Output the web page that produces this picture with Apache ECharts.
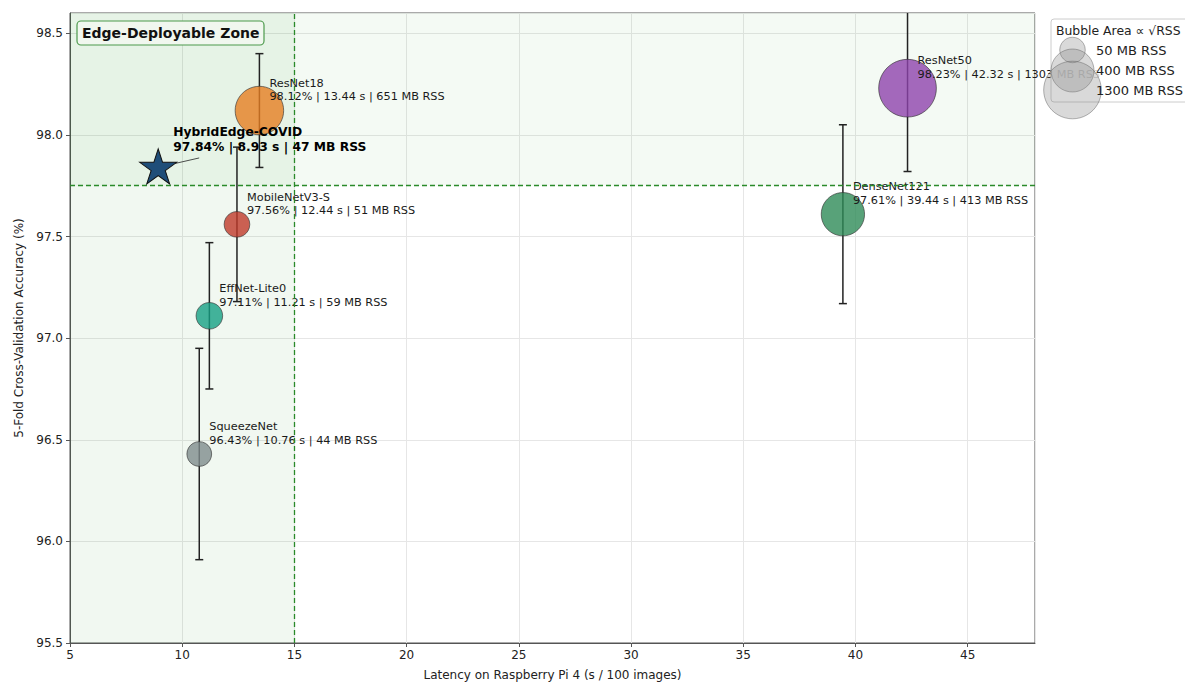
<!DOCTYPE html>
<html>
<head>
<meta charset="utf-8">
<script src="https://cdn.jsdelivr.net/npm/echarts@6/dist/echarts.min.js"></script>
<style>
html,body{margin:0;padding:0;background:#fff;}
#chart{width:1185px;height:686px;}
</style>
</head>
<body>
<div id="chart"></div>
<script>
// ---------- data ----------
const baselineNames    = ['ResNet18', 'MobileNetV3-S', 'EffNet-Lite0', 'SqueezeNet', 'DenseNet121', 'ResNet50'];
const baselineLatency  = [13.44, 12.44, 11.21, 10.76, 39.44, 42.32];
const baselineAccuracy = [98.12, 97.56, 97.11, 96.43, 97.61, 98.23];
const baselineStd      = [0.28, 0.38, 0.36, 0.52, 0.44, 0.41];
const baselineRSS      = [651, 51, 59, 44, 413, 1303];
const baselineColors   = ['#e67e22', '#c0392b', '#16a085', '#7f8c8d', '#2e8b57', '#8e44ad'];

const oursName     = 'HybridEdge-COVID';
const oursLatency  = [8.93];
const oursAccuracy = [97.84];
const oursRSS      = [47];

const latencyThreshold  = 15;
const accuracyThreshold = 97.75;
const legendRSS = [50, 400, 1300];

const xMin = 5, xMax = 48, xInterval = 5;
const yMin = 95.5, yMax = 98.6, yInterval = 0.5;

// ---------- helpers ----------
const FONT = "'DejaVu Sans', sans-serif";
const bubbleSize = rss => 9.6 * Math.pow(rss, 0.25);
const starPath = 'path://M100,0 L122.45,69.1 L195.1,69.1 L136.33,111.8 L158.8,180.9 L100,138.2 L41.2,180.9 L63.67,111.8 L4.9,69.1 L77.55,69.1 Z';

const bubbleData = baselineNames.map((n, i) => ({
  name: n,
  value: [baselineLatency[i], baselineAccuracy[i], baselineRSS[i]],
  itemStyle: { color: baselineColors[i] }
}));
const errData = baselineNames.map((n, i) => [baselineLatency[i], baselineAccuracy[i] - baselineStd[i], baselineAccuracy[i] + baselineStd[i]]);

const chart = echarts.init(document.getElementById('chart'), null, { renderer: 'svg' });

// legend graphic
const lgX = 1051, lgY = 19;
const legendChildren = [
  { type: 'rect', z: 100, shape: { x: lgX, y: lgY, width: 150, height: 83, r: 3 },
    style: { fill: 'rgba(255,255,255,0.8)', stroke: '#cccccc', lineWidth: 1 } },
  { type: 'text', z: 102, style: { x: lgX + 5, y: lgY + 11, text: 'Bubble Area \u221D \u221ARSS', font: `12.4px ${FONT}`, fill: '#222', textVerticalAlign: 'middle' } }
];
const lgRowY = [50, 70.5, 90];
legendRSS.forEach((r, i) => {
  const d = bubbleSize(r);
  legendChildren.push({ type: 'circle', z: 101, shape: { cx: 1072.5, cy: lgRowY[i], r: d / 2 },
    style: { fill: 'rgba(128,128,128,0.3)', stroke: 'rgba(90,90,90,0.45)', lineWidth: 1 } });
});
legendRSS.forEach((r, i) => {
  legendChildren.push({ type: 'text', z: 102, style: { x: 1096, y: lgRowY[i], text: r + ' MB RSS', font: `13px ${FONT}`, fill: '#222', textVerticalAlign: 'middle' } });
});

const option = {
  backgroundColor: '#ffffff',
  animation: false,
  grid: { left: 70, right: 150, top: 13, bottom: 42, show: true, borderColor: '#555', borderWidth: 1, backgroundColor: 'transparent' },
  xAxis: {
    type: 'value', min: xMin, max: xMax, interval: xInterval,
    name: 'Latency on Raspberry Pi 4 (s / 100 images)', nameLocation: 'middle', nameGap: 26,
    nameTextStyle: { fontFamily: FONT, fontSize: 12, color: '#222' },
    axisLine: { show: true, lineStyle: { color: '#555', width: 1 } },
    axisTick: { show: true, length: 4, lineStyle: { color: '#555' } },
    axisLabel: { fontFamily: FONT, fontSize: 12, color: '#222', margin: 6, showMaxLabel: false },
    splitLine: { show: true, lineStyle: { color: '#e6e6e6', width: 1 } }
  },
  yAxis: {
    type: 'value', min: yMin, max: yMax, interval: yInterval,
    name: '5-Fold Cross-Validation Accuracy (%)', nameLocation: 'middle', nameGap: 42,
    nameTextStyle: { fontFamily: FONT, fontSize: 12, color: '#222' },
    axisLine: { show: true, lineStyle: { color: '#555', width: 1 } },
    axisTick: { show: true, length: 4, lineStyle: { color: '#555' } },
    axisLabel: { fontFamily: FONT, fontSize: 12, color: '#222', margin: 7, showMaxLabel: false,
      formatter: v => v.toFixed(1) },
    splitLine: { show: true, lineStyle: { color: '#e6e6e6', width: 1 } }
  },
  graphic: [
    { type: 'rect', z: 100, shape: { x: 77, y: 21, width: 187, height: 24, r: 4 },
      style: { fill: 'rgba(241,247,239,1)', stroke: '#4c9a4c', lineWidth: 1.2 } },
    { type: 'text', z: 101, style: { x: 82, y: 33, text: 'Edge-Deployable Zone', font: `bold 14px ${FONT}`, fill: '#111', textVerticalAlign: 'middle' } },
    { type: 'group', children: legendChildren }
  ],
  series: [
    {
      // shaded zones + threshold lines
      type: 'line', data: [], z: 1,
      markArea: {
        silent: true,
        data: [
          [{ xAxis: xMin, itemStyle: { color: 'rgba(0,128,0,0.055)' } }, { xAxis: latencyThreshold }],
          [{ yAxis: accuracyThreshold, itemStyle: { color: 'rgba(0,128,0,0.045)' } }, { yAxis: yMax }]
        ]
      },
      markLine: {
        silent: true, symbol: 'none', label: { show: false },
        lineStyle: { color: '#2a8a2a', type: [5, 3], width: 1.3 },
        data: [{ xAxis: latencyThreshold }, { yAxis: accuracyThreshold }]
      }
    },
    {
      // error bars
      type: 'custom', z: 3, clip: true,
      data: errData,
      renderItem: (params, api) => {
        const x = api.value(0);
        const lo = api.coord([x, api.value(1)]);
        const hi = api.coord([x, api.value(2)]);
        const w = 4;
        const st = { stroke: '#222', lineWidth: 1.5 };
        return { type: 'group', children: [
          { type: 'line', shape: { x1: lo[0], y1: lo[1], x2: hi[0], y2: hi[1] }, style: st },
          { type: 'line', shape: { x1: lo[0] - w, y1: lo[1], x2: lo[0] + w, y2: lo[1] }, style: st },
          { type: 'line', shape: { x1: hi[0] - w, y1: hi[1], x2: hi[0] + w, y2: hi[1] }, style: st }
        ]};
      }
    },
    {
      // baseline bubbles
      type: 'scatter', z: 4,
      data: bubbleData,
      symbolSize: v => bubbleSize(v[2]),
      itemStyle: { opacity: 0.8, borderColor: '#333', borderWidth: 0.8 },
      label: {
        show: true, position: 'inside', align: 'left', verticalAlign: 'bottom', offset: [10, -7],
        fontFamily: FONT, fontSize: 11.3, color: '#1a1a1a', opacity: 1, lineHeight: 13.5,
        formatter: p => `${p.name}\n${p.value[1].toFixed(2)}% | ${p.value[0].toFixed(2)} s | ${p.value[2]} MB RSS`
      },
      emphasis: { disabled: true }
    },
    {
      // annotation connector for ours
      type: 'custom', z: 5, clip: false,
      data: oursLatency.map((x, i) => [x, oursAccuracy[i]]),
      renderItem: (params, api) => {
        const p = api.coord([api.value(0), api.value(1)]);
        return { type: 'line', shape: { x1: p[0] + 17, y1: p[1] - 4, x2: p[0] + 41, y2: p[1] - 9.5 },
          style: { stroke: '#222', lineWidth: 0.8 } };
      }
    },
    {
      // proposed model star
      type: 'scatter', z: 6,
      data: oursLatency.map((x, i) => ({ name: oursName, value: [x, oursAccuracy[i], oursRSS[i]] })),
      symbol: starPath, symbolSize: [37, 35], symbolOffset: [0, -1],
      itemStyle: { color: '#1f4e79', borderColor: '#111', borderWidth: 1, opacity: 1 },
      label: {
        show: true, position: 'inside', align: 'left', verticalAlign: 'bottom', offset: [15, -12],
        fontFamily: FONT, fontSize: 12.3, fontWeight: 'bold', color: '#000', opacity: 1, lineHeight: 15,
        formatter: p => `${p.name}\n${p.value[1].toFixed(2)}% | ${p.value[0].toFixed(2)} s | ${p.value[2]} MB RSS`
      },
      emphasis: { disabled: true }
    }
  ]
};
chart.setOption(option);
</script>
</body>
</html>
